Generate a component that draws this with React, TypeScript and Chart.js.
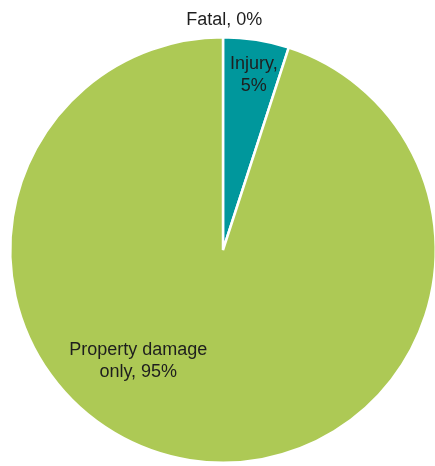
import React, { useEffect, useRef } from "react";
import { Chart, registerables } from "chart.js";

Chart.register(...registerables);

const categories = ["Fatal", "Injury", "Property damage only"];
const values = [0, 5, 95];
const labelLines = [["Fatal, 0%"], ["Injury,", "5%"], ["Property damage", "only, 95%"]];
const colors = ["#c00000", "#00979c", "#adc955"];
// label placement: angle (deg, clockwise from top) and distance as fraction of radius
const labelAngles = [0.3, 10, 217.4];
const labelDist = [1.08, 0.834, 0.656];

const labelPlugin = {
  id: "sliceLabels",
  afterDatasetsDraw(chart: any) {
    const ctx = chart.ctx;
    const meta = chart.getDatasetMeta(0);
    const arc = meta.data[0];
    if (!arc) return;
    const cx = arc.x;
    const cy = arc.y;
    const r = arc.outerRadius;
    ctx.save();
    ctx.font = "18px 'Liberation Sans', Arial, sans-serif";
    ctx.fillStyle = "#1e1e1e";
    ctx.textAlign = "center";
    ctx.textBaseline = "middle";
    const lh = 22;
    labelLines.forEach((lines, i) => {
      const a = (labelAngles[i] * Math.PI) / 180;
      const x = cx + Math.sin(a) * r * labelDist[i];
      const y = cy - Math.cos(a) * r * labelDist[i];
      const y0 = y - ((lines.length - 1) * lh) / 2;
      lines.forEach((t, j) => ctx.fillText(t, x, y0 + j * lh));
    });
    ctx.restore();
  },
};

export default function App() {
  const ref = useRef<HTMLCanvasElement | null>(null);
  useEffect(() => {
    if (!ref.current) return;
    const chart = new Chart(ref.current, {
      type: "pie",
      data: {
        labels: categories,
        datasets: [
          {
            data: values,
            backgroundColor: colors,
            borderColor: "#ffffff",
            borderWidth: 2.5,
            offset: 0,
            hoverOffset: 0,
          },
        ],
      },
      options: {
        responsive: false,
        animation: false,
        layout: { padding: { left: 9, right: 13, top: 36, bottom: 6 } },
        plugins: {
          legend: { display: false },
          tooltip: { enabled: false },
        },
      },
      plugins: [labelPlugin],
    });
    return () => chart.destroy();
  }, []);
  return (
    <div
      style={{
        position: "absolute",
        left: 0,
        top: 0,
        width: 435,
        height: 466,
        overflow: "hidden",
        background: "#ffffff",
      }}
    >
      <canvas ref={ref} width={450} height={470} style={{ display: "block" }} />
    </div>
  );
}
